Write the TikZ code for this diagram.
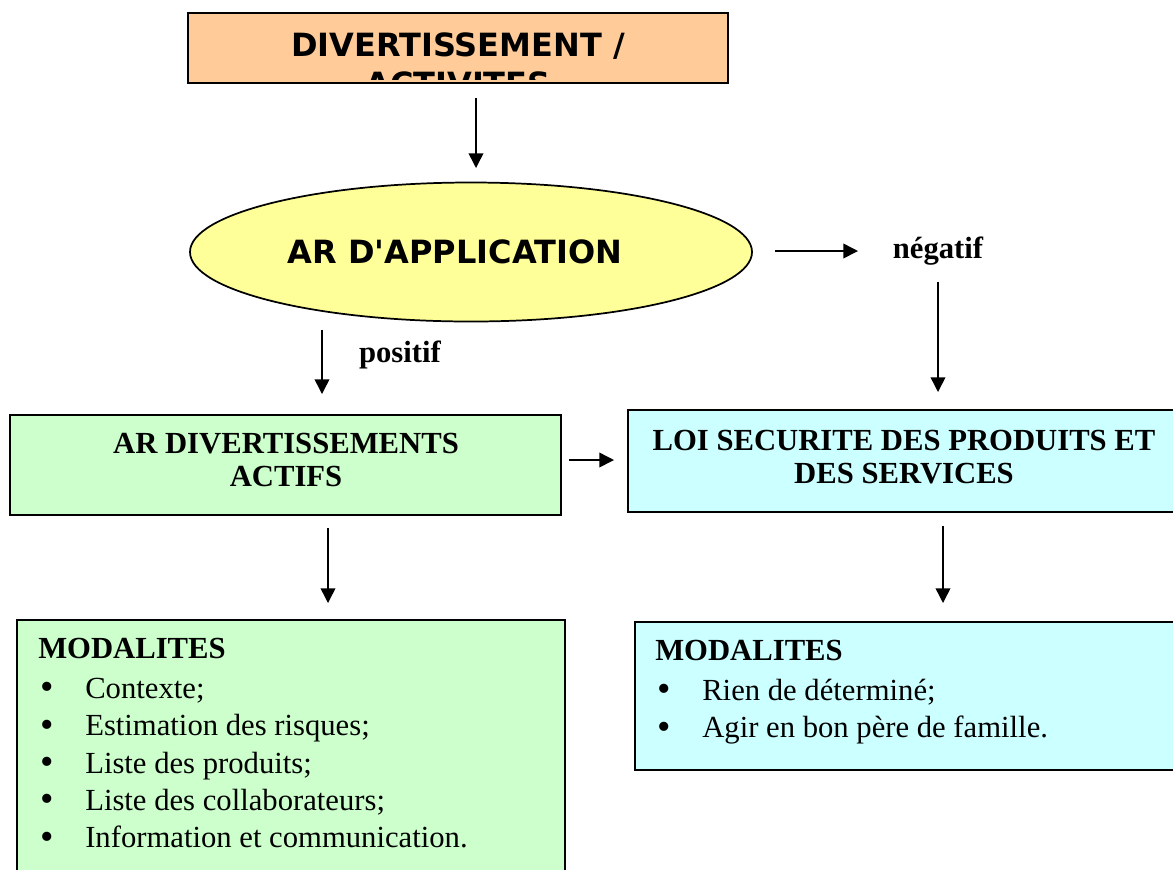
\documentclass[tikz,border=0pt]{standalone}
\usepackage{fontspec}
\setmainfont{Liberation Serif}
\newfontfamily\vsans{DejaVu Sans}
\usetikzlibrary{shapes.geometric,arrows.meta}
\definecolor{peach}{HTML}{FFCC99}
\definecolor{lyellow}{HTML}{FFFF99}
\definecolor{lgreen}{HTML}{CCFFCC}
\definecolor{lcyan}{HTML}{CCFFFF}
\newcommand\mybul{\makebox[35.25pt][l]{\hspace{2pt}\raisebox{-0.08ex}{\scalebox{1.25}{\textbullet}}}}
\begin{document}
\begin{tikzpicture}[x=0.75pt,y=-0.75pt,
  boxst/.style={draw=black,line width=1.6pt,inner sep=0pt},
  arr/.style={-{Triangle[length=11pt,width=11pt]},line width=1.1pt},
  ttl/.style={font=\fontsize{23}{24.75}\selectfont\bfseries,align=center,inner sep=0pt},
  sansttl/.style={font=\vsans\bfseries\fontsize{24}{29}\selectfont,inner sep=0pt},
  txt/.style={font=\fontsize{23}{28}\selectfont,align=left,inner sep=0pt,anchor=north west}]
\useasboundingbox (0,0) rectangle (1173,869);

% top box
\node[boxst,fill=peach,minimum width=405pt,minimum height=52.5pt] (top) at (458,48) {};
\begin{scope}
  \clip (190,15) rectangle (726,79);
  \node[sansttl,anchor=base] (topt1) at (458,56) {DIVERTISSEMENT /};
  \node[sansttl,anchor=base] (topt2) at (458,95) {ACTIVITES};
\end{scope}

% ellipse
\node[ellipse,boxst,line width=1.3pt,fill=lyellow,minimum width=421.5pt,minimum height=104.25pt] (app) at (471,252) {};
\node[sansttl] (appt) at (455,252) {AR D'APPLICATION};

% labels
\node[font=\fontsize{23}{24}\selectfont\bfseries,inner sep=0pt] (neg) at (938,251) {négatif};
\node[font=\fontsize{23}{24}\selectfont\bfseries,inner sep=0pt] (pos) at (400,355) {positif};

% middle boxes
\node[boxst,fill=lgreen,minimum width=413.25pt,minimum height=75pt] (act) at (285.5,465) {};
\node[ttl] (actt) at (286,460) {AR DIVERTISSEMENTS\\ACTIFS};
\node[boxst,fill=lcyan,minimum width=414pt,minimum height=76.5pt] (loi) at (904,461) {};
\node[ttl] (loit) at (904,457) {LOI SECURITE DES PRODUITS ET\\DES SERVICES};

% bottom boxes
\node[boxst,fill=lgreen,minimum width=411pt,minimum height=195pt] (modg) at (291,750) {};
\node[boxst,fill=lcyan,minimum width=408.75pt,minimum height=111pt] (modc) at (907.5,696) {};

\node[txt] (modgt) at (38,638) {\textbf{MODALITES}\\[2pt]
  \mybul Contexte;\\
  \mybul Estimation des risques;\\
  \mybul Liste des produits;\\
  \mybul Liste des collaborateurs;\\
  \mybul Information et communication.};
\node[txt] (modct) at (655,640) {\textbf{MODALITES}\\[2pt]
  \mybul Rien de déterminé;\\
  \mybul Agir en bon père de famille.};

% arrow end points
\coordinate (a1s) at (476,98);  \coordinate (a1e) at (476,168);
\coordinate (a2s) at (775,251); \coordinate (a2e) at (858,251);
\coordinate (a3s) at (938,282); \coordinate (a3e) at (938,392);
\coordinate (a4s) at (322,330); \coordinate (a4e) at (322,394);
\coordinate (a5s) at (569,460); \coordinate (a5e) at (614,460);
\coordinate (a6s) at (328,528); \coordinate (a6e) at (328,603);
\coordinate (a7s) at (943,526); \coordinate (a7e) at (943,603);

\draw[arr] (a1s) -- (a1e);
\draw[arr] (a2s) -- (a2e);
\draw[arr] (a3s) -- (a3e);
\draw[arr] (a4s) -- (a4e);
\draw[arr] (a5s) -- (a5e);
\draw[arr] (a6s) -- (a6e);
\draw[arr] (a7s) -- (a7e);
\end{tikzpicture}
\end{document}
